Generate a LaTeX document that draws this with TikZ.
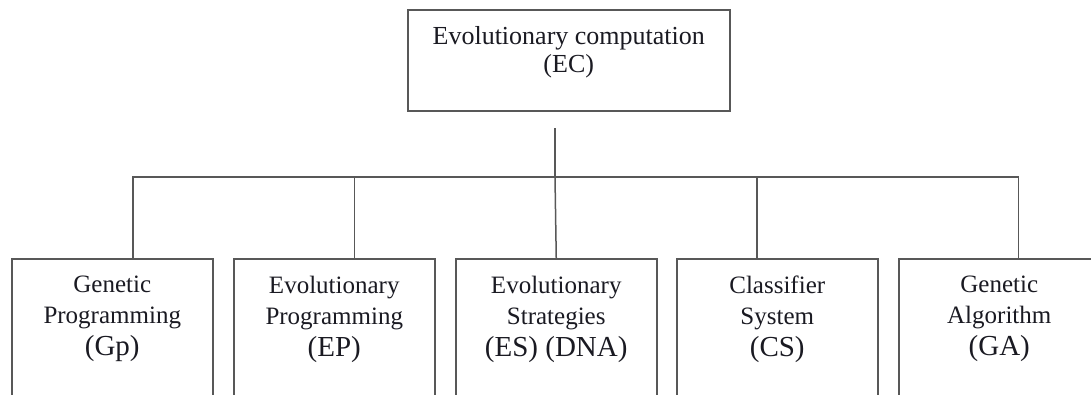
\documentclass[tikz,border=0pt]{standalone}
\usepackage{fontspec}
\setmainfont{Liberation Serif}
\definecolor{linegray}{HTML}{585858}
\definecolor{textdark}{HTML}{1A1A22}
\newcommand{\abbrline}[1]{{\fontsize{29}{33}\selectfont #1}}
\begin{document}
\begin{tikzpicture}[x=1pt,y=-1pt,
  topbox/.style={draw=linegray, line width=1.5pt, rectangle, minimum width=322pt, minimum height=101pt, anchor=north west, inner sep=0pt},
  leafbox/.style={draw=linegray, line width=1.5pt, rectangle, minimum width=201pt, minimum height=170pt, anchor=north west, inner sep=0pt},
  toplbl/.style={text=textdark, align=center, anchor=north, inner sep=0pt, font=\fontsize{26}{28}\selectfont},
  leaflbl/.style={text=textdark, align=center, anchor=north, inner sep=0pt, font=\fontsize{25}{31}\selectfont},
  conn/.style={draw=linegray, line width=1.5pt}]
\useasboundingbox (0,0) rectangle (1091,394);
\fill[white] (0,0) rectangle (1091,394);
\clip (0,0) rectangle (1091,394);

% top box
\node[topbox] (ec) at (407,9) {};
\node[toplbl] (ect) at ([yshift=-17pt]ec.north) {Evolutionary computation\\(EC)};

% leaf boxes
\node[leafbox] (gp) at (11,258) {};
\node[leafbox] (ep) at (233,258) {};
\node[leafbox] (es) at (455,258) {};
\node[leafbox] (cs) at (676,258) {};
\node[leafbox] (ga) at (898,258) {};

\node[leaflbl] (gpt) at ([yshift=-18pt]gp.north) {Genetic\\Programming\\[1pt]\abbrline{(Gp)}};
\node[leaflbl] (ept) at ([yshift=-18pt]ep.north) {Evolutionary\\Programming\\[1pt]\abbrline{(EP)}};
\node[leaflbl] (est) at ([yshift=-18pt]es.north) {Evolutionary\\Strategies\\[1pt]\abbrline{(ES) (DNA)}};
\node[leaflbl] (cst) at ([yshift=-18pt]cs.north) {Classifier\\System\\[1pt]\abbrline{(CS)}};
\node[leaflbl] (gat) at ([yshift=-18pt]ga.north) {Genetic\\Algorithm\\[1pt]\abbrline{(GA)}};

% connectors
\coordinate (stem) at (555,128);
\coordinate (bus) at (555,177);
\draw[conn] (stem) -- (bus);
\draw[conn] ([xshift=20.5pt]gp.north) |- (bus);
\draw[conn] ([xshift=20pt]ep.north) |- (bus);
\draw[conn] (es.north) -- (bus);
\draw[conn] ([xshift=-20.5pt]cs.north) |- (bus);
\draw[conn] ([xshift=19pt]ga.north) |- (bus);
\end{tikzpicture}
\end{document}
